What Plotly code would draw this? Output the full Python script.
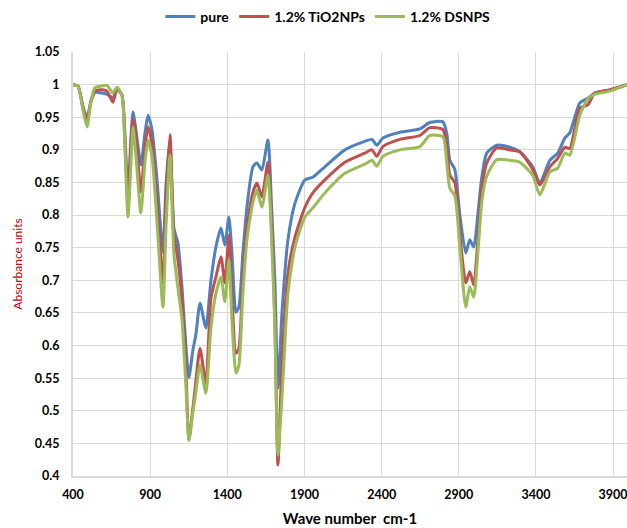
import plotly.graph_objects as go

# Wavenumber grid (cm-1) and absorbance for the three films
wavenumber = [400, 432, 465, 491, 517, 542, 588, 620, 659, 685, 717, 737, 756, 776, 789, 808,
              840, 866, 886, 912, 944, 983, 1002, 1028, 1054, 1080, 1106, 1132, 1151, 1177,
              1197, 1223, 1261, 1294, 1326, 1359, 1384, 1410, 1430, 1456, 1475, 1501, 1527,
              1566, 1592, 1624, 1663, 1689, 1708, 1728, 1754, 1793, 1838, 1903, 1954, 2032,
              2162, 2291, 2337, 2369, 2408, 2518, 2648, 2712, 2797, 2822, 2842, 2874, 2907,
              2945, 2971, 2997, 3023, 3049, 3081, 3146, 3230, 3295, 3379, 3425, 3490, 3541,
              3587, 3619, 3684, 3736, 3781, 3878, 3990]

pure = [1.0, 0.998, 0.965, 0.949, 0.975, 0.988, 0.987, 0.985, 0.98, 0.993, 0.984, 0.92, 0.83, 0.92, 0.958, 0.93,
        0.877, 0.925, 0.953, 0.93, 0.855, 0.743, 0.843, 0.915, 0.78, 0.757, 0.69, 0.598, 0.551, 0.593,
        0.618, 0.665, 0.627, 0.70, 0.751, 0.78, 0.754, 0.797, 0.742, 0.651, 0.659, 0.742, 0.812,
        0.874, 0.88, 0.869, 0.915, 0.8, 0.7, 0.535, 0.65, 0.762, 0.818, 0.854, 0.858, 0.874,
        0.9, 0.913, 0.916, 0.907, 0.918, 0.927, 0.932, 0.942, 0.943, 0.925, 0.884, 0.87, 0.8,
        0.742, 0.762, 0.751, 0.8, 0.858, 0.895, 0.907, 0.904, 0.897, 0.874, 0.849, 0.884, 0.895,
        0.918, 0.926, 0.972, 0.979, 0.987, 0.992, 1.0]

tio2 = [1.0, 0.998, 0.965, 0.945, 0.975, 0.99, 0.992, 0.99, 0.973, 0.994, 0.984, 0.91, 0.815, 0.91, 0.948, 0.92,
        0.835, 0.905, 0.935, 0.91, 0.82, 0.696, 0.82, 0.923, 0.77, 0.731, 0.67, 0.56, 0.455, 0.504,
        0.547, 0.596, 0.542, 0.673, 0.705, 0.736, 0.696, 0.769, 0.674, 0.588, 0.596, 0.705, 0.782,
        0.835, 0.849, 0.828, 0.881, 0.77, 0.64, 0.417, 0.573, 0.711, 0.766, 0.812, 0.834, 0.854,
        0.881, 0.895, 0.9, 0.89, 0.905, 0.916, 0.922, 0.934, 0.931, 0.905, 0.861, 0.85, 0.77,
        0.696, 0.713, 0.693, 0.76, 0.84, 0.88, 0.903, 0.9, 0.897, 0.87, 0.846, 0.874, 0.887,
        0.904, 0.902, 0.964, 0.969, 0.987, 0.992, 1.0]

dsnps = [1.0, 0.998, 0.96, 0.935, 0.975, 0.995, 0.998, 0.999, 0.987, 0.996, 0.984, 0.9, 0.797, 0.88, 0.935, 0.89,
         0.803, 0.88, 0.915, 0.89, 0.79, 0.659, 0.777, 0.892, 0.74, 0.688, 0.64, 0.536, 0.455, 0.497,
         0.53, 0.57, 0.527, 0.628, 0.68, 0.705, 0.667, 0.731, 0.639, 0.558, 0.57, 0.68, 0.762,
         0.82, 0.838, 0.812, 0.861, 0.75, 0.63, 0.432, 0.52, 0.68, 0.751, 0.797, 0.811, 0.834,
         0.864, 0.878, 0.884, 0.875, 0.89, 0.9, 0.905, 0.922, 0.92, 0.88, 0.841, 0.83, 0.75,
         0.659, 0.69, 0.674, 0.74, 0.82, 0.86, 0.885, 0.884, 0.881, 0.861, 0.831, 0.866, 0.872,
         0.895, 0.892, 0.953, 0.978, 0.985, 0.99, 1.0]

series = [("pure", pure, "#4F81BD"),
          ("1.2% TiO2NPs", tio2, "#C0504D"),
          ("1.2% DSNPS", dsnps, "#9BBB59")]

fig = go.Figure()
for name, vals, color in series:
    fig.add_trace(go.Scatter(
        x=wavenumber, y=vals, name=name, mode="lines",
        line=dict(color=color, width=3, shape="spline", smoothing=0.6),
    ))

tick_font = dict(family="Lato, 'Open Sans', sans-serif", size=12.5, color="#000000", weight="bold")

fig.update_layout(
    width=627, height=528,
    margin=dict(l=73, r=0, t=52, b=52),
    paper_bgcolor="white", plot_bgcolor="white",
    font=dict(family="Lato, 'Open Sans', sans-serif"),
    legend=dict(orientation="h", x=0.46, xanchor="center", y=1.083, yanchor="middle",
                font=dict(size=14, color="#000000", weight="bold"),
                itemwidth=30, tracegroupgap=0, bgcolor="rgba(0,0,0,0)"),
    xaxis=dict(range=[400, 3990], tick0=400, dtick=500, showgrid=True,
               gridcolor="#D9D9D9", gridwidth=1, showline=True, linecolor="#D9D9D9",
               linewidth=2, ticks="", zeroline=False, ticklabelstandoff=6,
               ticklabeloverflow="allow",
               tickfont=tick_font,
               title=dict(text="Wave number  cm-1", standoff=12,
                          font=dict(size=15, color="#000000", weight="bold"))),
    yaxis=dict(range=[0.4, 1.05], tick0=0.4, dtick=0.05, showgrid=True,
               gridcolor="#D9D9D9", gridwidth=1, showline=True, linecolor="#D9D9D9",
               linewidth=2, ticks="", zeroline=False, ticklabelstandoff=9,
               tickfont=tick_font,
               title=dict(text="Absorbance units", standoff=10,
                          font=dict(size=12, color="#C00000"))),
)

fig.write_html("out.html")
